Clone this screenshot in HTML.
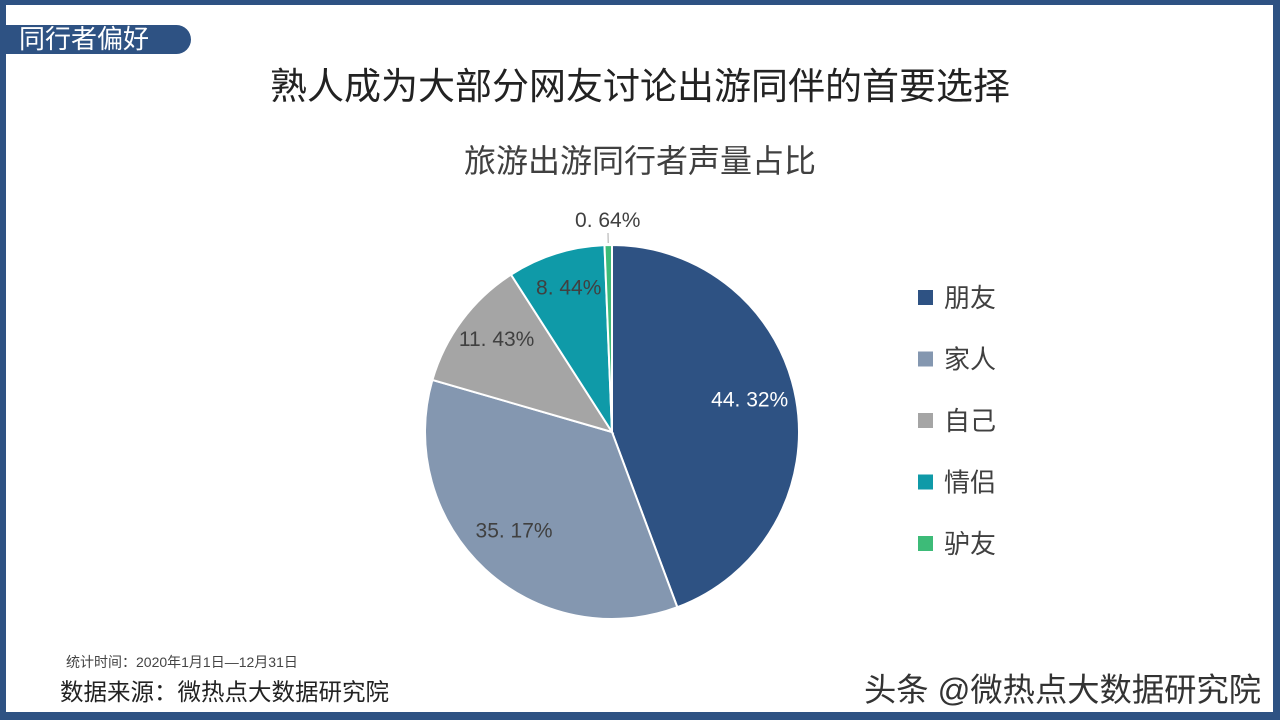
<!DOCTYPE html>
<html><head><meta charset="utf-8"><style>
body{margin:0;width:1280px;height:720px;position:relative;background:#fff;overflow:hidden;font-family:"Liberation Sans","Noto Sans CJK SC",sans-serif}
.frame{position:absolute;left:0;top:0;width:1280px;height:720px;box-sizing:border-box;border-style:solid;border-color:#2e5283;border-width:5px 7px 8px 6px}
.t{position:absolute;white-space:nowrap}
</style></head><body>
<div class="frame"></div>
<div class="t" style="left:6px;top:25px;width:185px;height:29px;background:#2e5283;border-radius:0 15px 15px 0;color:#fff;font-size:26px;line-height:29px;padding-left:13px;box-sizing:border-box">同行者偏好</div>
<div class="t" style="left:0;width:1280px;text-align:center;top:56px;font-size:37px;color:#222">熟人成为大部分网友讨论出游同伴的首要选择</div>
<div class="t" style="left:0;width:1280px;text-align:center;top:136px;font-size:32px;color:#404040;padding-left:0;box-sizing:border-box">旅游出游同行者声量占比</div>
<svg id="chart" width="1280" height="720" style="position:absolute;left:0;top:0"></svg>
<div class="t" style="left:66px;top:652px;font-size:14px;color:#444">统计时间：2020年1月1日—12月31日</div>
<div class="t" style="left:60px;top:673px;font-size:23.5px;color:#222">数据来源：微热点大数据研究院</div>
<div class="t" style="left:864px;top:665px;font-size:32.3px;color:#333;text-shadow:1px 1px 0 #fff">头条 @微热点大数据研究院</div>
<script>
const categories=["朋友","家人","自己","情侣","驴友"];
const values=[44.32,35.17,11.43,8.44,0.64];
const labels=["44. 32%","35. 17%","11. 43%","8. 44%","0. 64%"];
const colors=["#2e5283","#8497b0","#a5a5a5","#0f9aa8","#3dbb78"];
const svg=document.getElementById('chart');const NS='http://www.w3.org/2000/svg';
const cx=612,cy=432,r=187;
const total=values.reduce((a,b)=>a+b,0);
function pt(a,rr){return[cx+rr*Math.sin(a),cy-rr*Math.cos(a)];}
let acc=0;
values.forEach((v,i)=>{
 const a0=acc/total*2*Math.PI;acc+=v;const a1=acc/total*2*Math.PI;
 const p0=pt(a0,r),p1=pt(a1,r);
 const p=document.createElementNS(NS,'path');
 p.setAttribute('d',`M${cx},${cy}L${p0[0]},${p0[1]}A${r},${r} 0 ${a1-a0>Math.PI?1:0} 1 ${p1[0]},${p1[1]}Z`);
 p.setAttribute('fill',colors[i]);p.setAttribute('stroke','#fff');p.setAttribute('stroke-width','2');
 
 
 svg.appendChild(p);
 const am=(a0+a1)/2;let lp;
 const t=document.createElementNS(NS,'text');
 if(v<2){lp=pt(am,r+26);
  const l=document.createElementNS(NS,'line');const q=pt(am,r+2),q2=pt(am,r+12);
  l.setAttribute('x1',q[0]);l.setAttribute('y1',q[1]);l.setAttribute('x2',q2[0]);l.setAttribute('y2',q2[1]);l.setAttribute('stroke','#aaa');
  
  
  svg.appendChild(l);
 } else lp=pt(am,r*0.77);
 t.setAttribute('x',lp[0]-(i==0?4:0));t.setAttribute('y',lp[1]+(v<2?8:0));t.setAttribute('text-anchor','middle');
 t.setAttribute('font-size','21');t.setAttribute('fill',i==0?'#fff':'#404040');
 t.textContent=labels[i];
 
 
 svg.appendChild(t);
 const ly=298+i*61.5;
 const s=document.createElementNS(NS,'rect');s.setAttribute('x',918);s.setAttribute('y',ly-8);s.setAttribute('width',15);s.setAttribute('height',15);s.setAttribute('fill',colors[i]);
 
 
 svg.appendChild(s);
 const lt=document.createElementNS(NS,'text');lt.setAttribute('x',944);lt.setAttribute('y',ly+9);lt.setAttribute('font-size','26');lt.setAttribute('fill','#404040');lt.textContent=categories[i];
 
 
 svg.appendChild(lt);
});
</script>
</body></html>
